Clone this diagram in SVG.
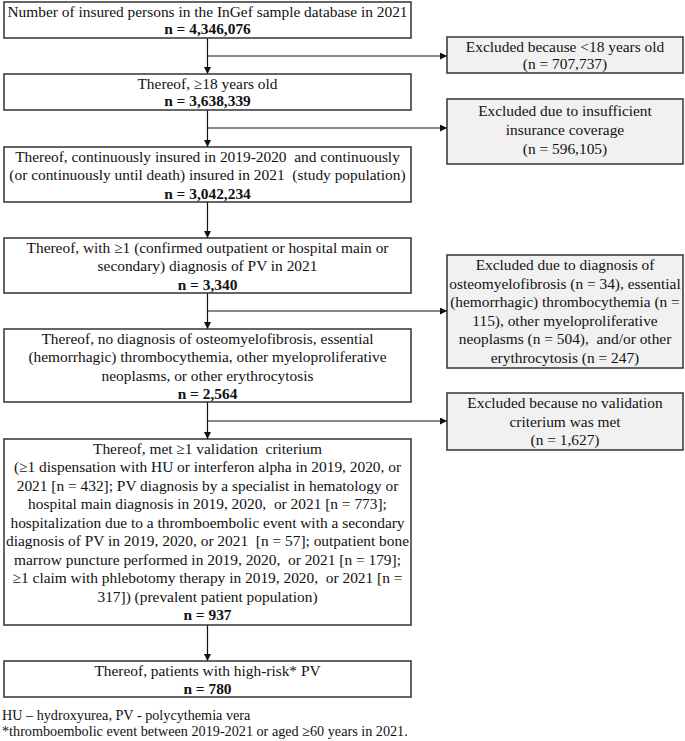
<svg xmlns="http://www.w3.org/2000/svg" width="685" height="741" viewBox="0 0 685 741">
<style>
.box{fill:#fff;stroke:#333;stroke-width:1.5}
.side{fill:#f1f1f1;stroke:#333;stroke-width:1.5}
text{font-family:"Liberation Serif","Times New Roman",serif;font-size:15.4px;fill:#111;text-anchor:middle;white-space:pre}
.b{font-weight:bold}
.ft{text-anchor:start;font-size:14.2px}
.ln{stroke:#111;stroke-width:1.2;fill:none}
</style>
<defs>
<marker id="ah" viewBox="0 0 10 10" refX="10" refY="5" markerWidth="7" markerHeight="7" markerUnits="userSpaceOnUse" orient="auto">
<path d="M0,0 L10,5 L0,10 z" fill="#111"/>
</marker>
</defs>
<g id="connectors">
<line class="ln" x1="207.5" y1="38" x2="207.5" y2="74" marker-end="url(#ah)"/>
<line class="ln" x1="207.5" y1="56" x2="447" y2="56" marker-end="url(#ah)"/>
<line class="ln" x1="207.5" y1="110" x2="207.5" y2="147" marker-end="url(#ah)"/>
<line class="ln" x1="207.5" y1="128" x2="447" y2="128" marker-end="url(#ah)"/>
<line class="ln" x1="207.5" y1="202" x2="207.5" y2="238" marker-end="url(#ah)"/>
<line class="ln" x1="207.5" y1="293" x2="207.5" y2="329" marker-end="url(#ah)"/>
<line class="ln" x1="207.5" y1="311" x2="447" y2="311" marker-end="url(#ah)"/>
<line class="ln" x1="207.5" y1="402" x2="207.5" y2="439" marker-end="url(#ah)"/>
<line class="ln" x1="207.5" y1="421" x2="447" y2="421" marker-end="url(#ah)"/>
<line class="ln" x1="207.5" y1="625" x2="207.5" y2="661" marker-end="url(#ah)"/>
</g>
<g id="n1">
<rect class="box" x="4" y="2" width="407" height="36"/>
<text x="207.5" y="16.5">Number of insured persons in the InGef sample database in 2021</text>
<text class="b" x="207.5" y="34">n = 4,346,076</text>
</g>
<g id="s1">
<rect class="side" x="447" y="37" width="236" height="36"/>
<text x="565" y="51.5">Excluded because &lt;18 years old</text>
<text x="565" y="69">(n = 707,737)</text>
</g>
<g id="n2">
<rect class="box" x="4" y="74" width="407" height="36"/>
<text x="207.5" y="88.5">Thereof, ≥18 years old</text>
<text class="b" x="207.5" y="106">n = 3,638,339</text>
</g>
<g id="s2">
<rect class="side" x="447" y="99" width="236" height="65"/>
<text x="565" y="116">Excluded due to insufficient</text>
<text x="565" y="135">insurance coverage</text>
<text x="565" y="154">(n = 596,105)</text>
</g>
<g id="n3">
<rect class="box" x="4" y="147" width="407" height="55"/>
<text x="207.5" y="161.5">Thereof, continuously insured in 2019-2020  and continuously</text>
<text x="207.5" y="180">(or continuously until death) insured in 2021  (study population)</text>
<text class="b" x="207.5" y="198.5">n = 3,042,234</text>
</g>
<g id="n4">
<rect class="box" x="4" y="238" width="407" height="55"/>
<text x="207.5" y="252.5">Thereof, with ≥1 (confirmed outpatient or hospital main or</text>
<text x="207.5" y="271">secondary) diagnosis of PV in 2021</text>
<text class="b" x="207.5" y="289.5">n = 3,340</text>
</g>
<g id="s3">
<rect class="side" x="447" y="255" width="236" height="113"/>
<text x="565" y="270">Excluded due to diagnosis of</text>
<text x="565" y="288.5">osteomyelofibrosis (n = 34), essential</text>
<text x="565" y="307">(hemorrhagic) thrombocythemia (n =</text>
<text x="565" y="325.5">115), other myeloproliferative</text>
<text x="565" y="344">neoplasms (n = 504),  and/or other</text>
<text x="565" y="362.5">erythrocytosis (n = 247)</text>
</g>
<g id="n5">
<rect class="box" x="4" y="329" width="407" height="73"/>
<text x="207.5" y="343.5">Thereof, no diagnosis of osteomyelofibrosis, essential</text>
<text x="207.5" y="362">(hemorrhagic) thrombocythemia, other myeloproliferative</text>
<text x="207.5" y="380.5">neoplasms, or other erythrocytosis</text>
<text class="b" x="207.5" y="399">n = 2,564</text>
</g>
<g id="s4">
<rect class="side" x="447" y="393" width="236" height="57"/>
<text x="565" y="408">Excluded because no validation</text>
<text x="565" y="426.5">criterium was met</text>
<text x="565" y="445">(n = 1,627)</text>
</g>
<g id="n6">
<rect class="box" x="4" y="439" width="407" height="186"/>
<text x="207.5" y="453.5">Thereof, met ≥1 validation  criterium</text>
<text x="207.5" y="472">(≥1 dispensation with HU or interferon alpha in 2019, 2020, or</text>
<text x="207.5" y="490.5">2021 [n = 432]; PV diagnosis by a specialist in hematology or</text>
<text x="207.5" y="509">hospital main diagnosis in 2019, 2020,  or 2021 [n = 773];</text>
<text x="207.5" y="527.5">hospitalization due to a thromboembolic event with a secondary</text>
<text x="207.5" y="546">diagnosis of PV in 2019, 2020, or 2021  [n = 57]; outpatient bone</text>
<text x="207.5" y="564.5">marrow puncture performed in 2019, 2020,  or 2021 [n = 179];</text>
<text x="207.5" y="583">≥1 claim with phlebotomy therapy in 2019, 2020,  or 2021 [n =</text>
<text x="207.5" y="601.5">317]) (prevalent patient population)</text>
<text class="b" x="207.5" y="620">n = 937</text>
</g>
<g id="n7">
<rect class="box" x="4" y="661" width="407" height="36"/>
<text x="207.5" y="676">Thereof, patients with high-risk* PV</text>
<text class="b" x="207.5" y="693.5">n = 780</text>
</g>
<g id="footer">
<text class="ft" x="2" y="719.5">HU – hydroxyurea, PV - polycythemia vera</text>
<text class="ft" x="2" y="735.5">*thromboembolic event between 2019-2021 or aged ≥60 years in 2021.</text>
</g>
</svg>
